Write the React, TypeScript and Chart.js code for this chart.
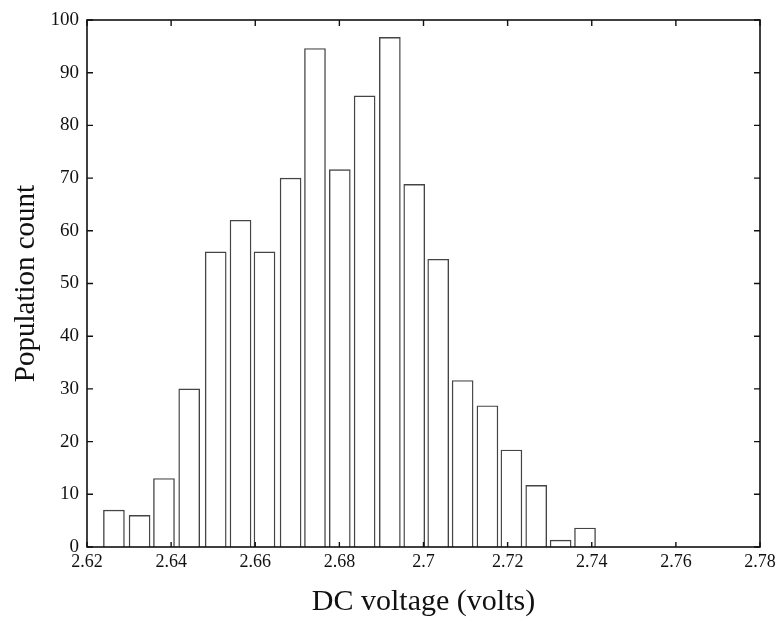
import React, { useEffect, useRef } from "react";
import { Chart, registerables } from "chart.js";

Chart.register(...registerables);

// Bin centres (volts)
const binCenters = [
  2.6264, 2.6325, 2.6383, 2.6443, 2.6506, 2.6565, 2.6622, 2.6684, 2.6742, 2.6801,
  2.686, 2.692, 2.6978, 2.7035, 2.7093, 2.7152, 2.7209, 2.7268, 2.7326, 2.7384,
];
// Population counts
const counts = [7, 6, 13, 30, 56, 62, 56, 70, 94.6, 71.6, 85.6, 96.7, 68.8, 54.6, 31.6, 26.8, 18.4, 11.7, 1.3, 3.6];
const xTickLabels = ["2.62", "2.64", "2.66", "2.68", "2.7", "2.72", "2.74", "2.76", "2.78"];
const yTickValues = [0, 10, 20, 30, 40, 50, 60, 70, 80, 90, 100];

const FONT = '"Liberation Serif", "Times New Roman", serif';

const boxPlugin = {
  id: "boxTicks",
  afterDraw(chart: any) {
    const { ctx, chartArea, scales } = chart;
    const { left, right, top, bottom } = chartArea;
    ctx.save();
    ctx.strokeStyle = "#111";
    ctx.lineWidth = 1.6;
    ctx.strokeRect(left, top, right - left, bottom - top);
    ctx.lineWidth = 1.4;
    const tl = 6;
    ctx.beginPath();
    scales.y.ticks.forEach((t: any) => {
      const y = scales.y.getPixelForValue(t.value);
      ctx.moveTo(left, y);
      ctx.lineTo(left + tl, y);
      ctx.moveTo(right, y);
      ctx.lineTo(right - tl, y);
    });
    scales.x.ticks.forEach((t: any) => {
      const x = scales.x.getPixelForValue(t.value);
      ctx.moveTo(x, bottom);
      ctx.lineTo(x, bottom - tl + 1);
      ctx.moveTo(x, top);
      ctx.lineTo(x, top + tl);
    });
    ctx.stroke();
    ctx.restore();
  },
};

export default function App() {
  const ref = useRef<HTMLCanvasElement | null>(null);
  useEffect(() => {
    if (!ref.current) return;
    const chart = new Chart(ref.current, {
      type: "bar",
      data: {
        datasets: [
          {
            data: binCenters.map((x, i) => ({ x, y: counts[i] })),
            backgroundColor: "#ffffff",
            borderColor: "#444",
            borderWidth: 1.4,
            barThickness: 21,
          } as any,
        ],
      },
      options: {
        animation: false,
        responsive: false,
        maintainAspectRatio: false,
        layout: { padding: { top: 20, right: 15, left: 0, bottom: 0 } },
        plugins: { legend: { display: false }, tooltip: { enabled: false } },
        scales: {
          x: {
            type: "linear",
            min: 2.62,
            max: 2.78,
            offset: false,
            grid: { display: false, drawTicks: false },
            border: { display: false },
            ticks: {
              stepSize: 0.02,
              autoSkip: false,
              maxRotation: 0,
              padding: 4,
              color: "#111",
              font: { family: FONT, size: 18 },
              callback: (v: any, i: number) => xTickLabels[i] ?? String(Number(Number(v).toFixed(2))),
            },
            title: {
              display: true,
              text: "DC voltage (volts)",
              color: "#111",
              font: { family: FONT, size: 30, lineHeight: 1 },
              padding: 0,
            },
            afterFit: (s: any) => {
              s.height = 70;
              s.paddingLeft = 0;
              s.paddingRight = 0;
            },
          },
          y: {
            min: 0,
            max: 100,
            grid: { display: false, drawTicks: false },
            border: { display: false },
            afterBuildTicks: (s: any) => {
              s.ticks = yTickValues.map((v) => ({ value: v }));
            },
            ticks: {
              padding: 8,
              color: "#111",
              font: { family: FONT, size: 19 },
            },
            title: {
              display: true,
              text: "Population count",
              color: "#111",
              font: { family: FONT, size: 29, lineHeight: 1 },
              padding: { top: 12, bottom: 0 },
            },
            afterFit: (s: any) => {
              s.width = 87;
            },
          },
        },
      },
      plugins: [boxPlugin],
    });
    return () => chart.destroy();
  }, []);
  return (
    <div style={{ position: "absolute", left: 0, top: 0, width: 775, height: 617, background: "#fff" }}>
      <canvas ref={ref} width={775} height={617} style={{ display: "block" }} />
    </div>
  );
}
